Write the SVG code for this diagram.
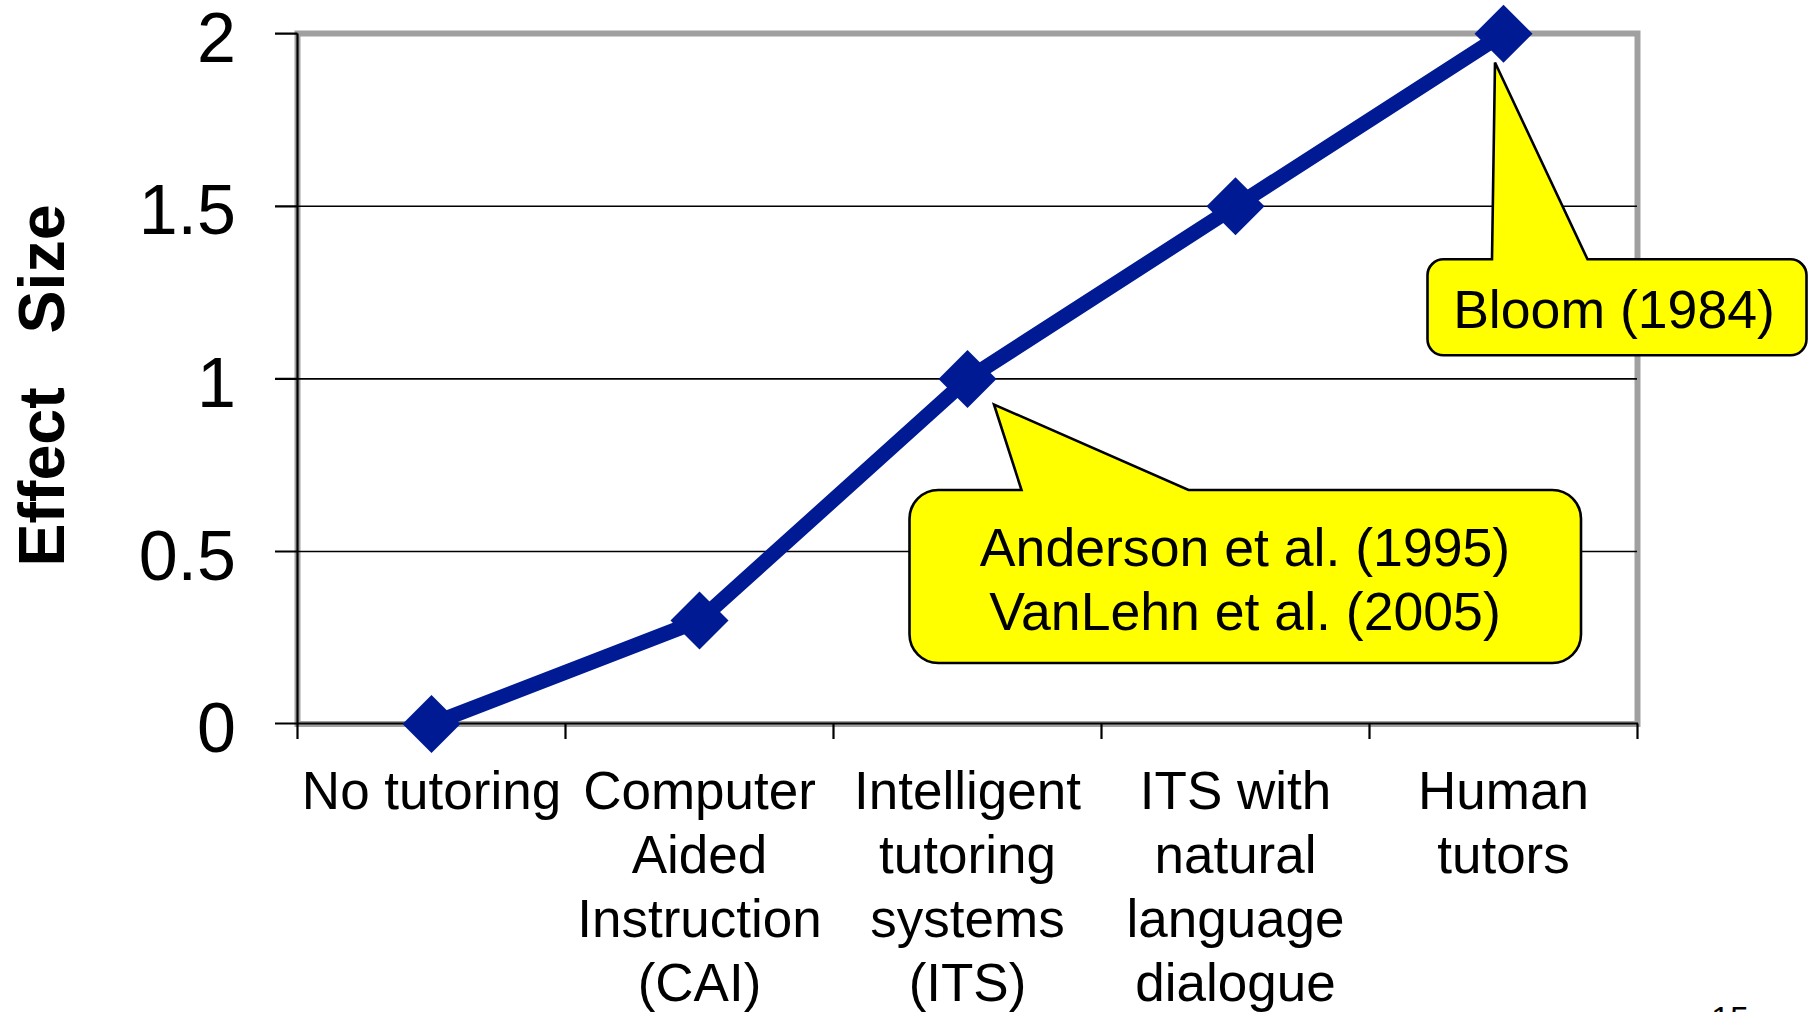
<svg xmlns="http://www.w3.org/2000/svg" width="1808" height="1012" viewBox="0 0 1808 1012">
<style>
text{font-family:"Liberation Sans",Arial,sans-serif;fill:#000}
.tick{font-size:70px;text-anchor:end}
.cat{font-size:53px;text-anchor:middle}
.call{font-size:53.6px;text-anchor:middle}
.grid{stroke:#000;stroke-width:1.6;fill:none}
.axis{stroke:#000;stroke-width:2.2;fill:none}
.frame{stroke:#a0a0a0;stroke-width:6;fill:#fff}
.callout{fill:#ffff00;stroke:#000;stroke-width:2.6;stroke-linejoin:miter}
.series{fill:none;stroke:#001a94;stroke-width:15;stroke-linejoin:round}
.mk{fill:#001a94}
</style>
<defs>
<polygon id="dm" points="0,-29 29,0 0,29 -29,0"/>
</defs>
<rect width="1808" height="1012" fill="#fff"/>
<g id="plot-area">
<rect class="frame" x="297.5" y="33.5" width="1340" height="690.5"/>
<line class="grid" x1="297.5" y1="206.3" x2="1637" y2="206.3"/>
<line class="grid" x1="297.5" y1="378.9" x2="1637" y2="378.9"/>
<line class="grid" x1="297.5" y1="551.5" x2="1637" y2="551.5"/>
</g>
<g id="axes">
<line class="axis" x1="297.5" y1="33.5" x2="297.5" y2="739"/>
<line class="axis" x1="275" y1="723.5" x2="1638" y2="723.5"/>
<path class="axis" d="M275,33.7H297.5M275,206.3H297.5M275,378.9H297.5M275,551.5H297.5M565.5,723.5V739M833.5,723.5V739M1101.5,723.5V739M1369.5,723.5V739M1637.5,723.5V739"/>
</g>
<g id="y-tick-labels">
<text class="tick" x="236" y="61.7">2</text>
<text class="tick" x="236" y="234.3">1.5</text>
<text class="tick" x="236" y="406.9">1</text>
<text class="tick" x="236" y="579.5">0.5</text>
<text class="tick" x="236" y="752.1">0</text>
</g>
<g id="y-axis-title">
<text transform="translate(63.5,566.5) rotate(-90)" x="0" y="0" font-size="64.5" font-weight="bold" xml:space="preserve" style="white-space:pre">Effect   Size</text>
</g>
<g id="x-category-labels">
<text class="cat" x="431.5" y="809">No tutoring</text>
<text class="cat" x="699.5" y="809">Computer<tspan x="699.5" dy="64">Aided</tspan><tspan x="699.5" dy="64">Instruction</tspan><tspan x="699.5" dy="64">(CAI)</tspan></text>
<text class="cat" x="967.5" y="809">Intelligent<tspan x="967.5" dy="64">tutoring</tspan><tspan x="967.5" dy="64">systems</tspan><tspan x="967.5" dy="64">(ITS)</tspan></text>
<text class="cat" x="1235.5" y="809">ITS with<tspan x="1235.5" dy="64">natural</tspan><tspan x="1235.5" dy="64">language</tspan><tspan x="1235.5" dy="64">dialogue</tspan></text>
<text class="cat" x="1503.5" y="809">Human<tspan x="1503.5" dy="64">tutors</tspan></text>
</g>
<g id="connectors">
<polyline class="series" points="431.5,724 699.5,620.5 967.5,379 1235.5,206.3 1503.5,33.7"/>
</g>
<g id="markers">
<use href="#dm" class="mk" x="431.5" y="724"/>
<use href="#dm" class="mk" x="699.5" y="620.5"/>
<use href="#dm" class="mk" x="967.5" y="379"/>
<use href="#dm" class="mk" x="1235.5" y="206.3"/>
<use href="#dm" class="mk" x="1503.5" y="33.7"/>
</g>
<g id="callout-anderson">
<path class="callout" d="M938.3,490 L1021.5,490 L994,404.5 L1188.5,490 L1552.2,490 A28.8,28.8 0 0 1 1581,518.8 L1581,634.2 A28.8,28.8 0 0 1 1552.2,663 L938.3,663 A28.8,28.8 0 0 1 909.5,634.2 L909.5,518.8 A28.8,28.8 0 0 1 938.3,490 Z"/>
<text class="call" x="1245" y="566">Anderson et al. (1995)</text>
<text class="call" x="1245" y="630">VanLehn et al. (2005)</text>
</g>
<g id="callout-bloom">
<path class="callout" d="M1443.5,259.3 L1492,259.3 L1495,62.5 L1587.5,259.3 L1790.5,259.3 A16,16 0 0 1 1806.5,275.3 L1806.5,339.3 A16,16 0 0 1 1790.5,355.3 L1443.5,355.3 A16,16 0 0 1 1427.5,339.3 L1427.5,275.3 A16,16 0 0 1 1443.5,259.3 Z"/>
<text class="call" x="1614" y="328.3">Bloom (1984)</text>
</g>
<g id="page-number">
<text x="1711" y="1030" font-size="34">15</text>
</g>
</svg>
